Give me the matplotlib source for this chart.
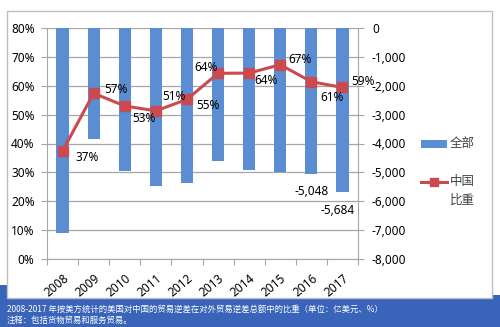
import matplotlib
matplotlib.use("Agg")
from matplotlib import pyplot as plt
from matplotlib.patches import Rectangle
from matplotlib.lines import Line2D
import numpy as np

plt.rcParams['font.family'] = ['Noto Sans', 'Noto Sans CJK SC', 'DejaVu Sans']

# data
years = ['2008', '2009', '2010', '2011', '2012', '2013', '2014', '2015', '2016', '2017']
deficit_total = [-7087, -3838, -4947, -5486, -5368, -4619, -4903, -4985, -5048, -5684]  # 亿美元
china_share = [37.4, 57.4, 53.0, 51.3, 55.3, 64.3, 64.4, 67.3, 61.4, 59.4]  # %

# label offsets (px) for the share labels, placed as in the reference
share_offsets = [(25, -6), (22, 4), (19, -13), (18, 14), (21, -6), (-12, 6), (17, -7), (20, 5), (21, -16), (21, 6)]

bar_color = '#5B8DD3'
line_color = '#CB4A50'
band_color = '#3A64BA'
grid_color = '#A6A6A6'
cjk = ['Noto Sans CJK SC', 'DejaVu Sans']

fig = plt.figure(figsize=(5.0, 3.27), dpi=100)
W, H = 500, 327

# blue band at the bottom
fig.patches.append(Rectangle((0, 0), 1, 1 - 295 / H, transform=fig.transFigure,
                             facecolor=band_color, edgecolor='none', zorder=0))
fig.patches.append(Rectangle((0, 0), 7 / W, 1 - 285 / H, transform=fig.transFigure,
                             facecolor=band_color, edgecolor='none', zorder=0))
# white chart panel with grey border
fig.patches.append(Rectangle((7 / W, 1 - 298 / H), 485 / W, 287 / H, transform=fig.transFigure,
                             facecolor='white', edgecolor='#BFBFBF', lw=1.0, zorder=1))

fig.text(7 / W, 1 - 309 / H, '2008-2017 年按美方统计的美国对中国的贸易逆差在对外贸易逆差总额中的比重（单位：亿美元、%）',
         color='white', fontsize=6.0, va='center', ha='left', family=cjk)
fig.text(7 / W, 1 - 320 / H, '注释：包括货物贸易和服务贸易。',
         color='white', fontsize=6.0, va='center', ha='left', family=cjk)

ax = fig.add_axes([47 / W, 1 - 259 / H, (358 - 47) / W, (259 - 28) / H])
ax.set_zorder(2)
ax.patch.set_alpha(0)
x = np.arange(len(years))

# bars on the deficit scale (shown on the right)
ax.bar(x, deficit_total, width=0.39, color=bar_color, zorder=2)
ax.set_ylim(-8000, 0)
ax.set_xlim(-0.5, len(years) - 0.5)
ax.grid(axis='y', color=grid_color, lw=0.9)
ax.set_axisbelow(True)
ax.set_xticks(np.arange(-0.5, len(years), 1))
ax.set_xticklabels([])
ax.set_xticks(x, minor=True)
ax.set_xticklabels(years, minor=True, rotation=40, ha='right', rotation_mode='anchor', fontsize=8.5)
ax.tick_params(axis='x', which='minor', length=0, pad=9)
ax.tick_params(axis='x', which='major', length=4, color=grid_color)

for i, v in enumerate(deficit_total[-2:]):
    k = len(years) - 2 + i
    dx = 0 if i == 0 else -0.15
    ax.annotate('{:,}'.format(v), (k + dx, v), xytext=(0, -13), textcoords='offset points',
                ha='center', va='center', fontsize=8.5)

# share line on the percent scale (shown on the left)
ax2 = ax.twinx()
ax2.yaxis.tick_left()
ax.yaxis.tick_right()
ax.set_yticks(np.arange(-8000, 1, 1000))
ax.set_yticklabels(['{:,}'.format(v) for v in np.arange(-8000, 1, 1000)])
ax.tick_params(axis='y', length=4, color=grid_color, labelsize=8.5, pad=6)
for s in ['top', 'left']:
    ax.spines[s].set_visible(False)
for s in ['right', 'bottom']:
    ax.spines[s].set_color(grid_color)

ax2.plot(x, china_share, color=line_color, lw=2.2, marker='s', markersize=7, zorder=3)
ax2.set_ylim(0, 80)
ax2.set_yticks(np.arange(0, 81, 10))
ax2.set_yticklabels(['{}%'.format(v) for v in range(0, 81, 10)])
ax2.tick_params(axis='y', length=4, color=grid_color, labelsize=8.5, pad=5)
for s in ['top', 'right', 'bottom']:
    ax2.spines[s].set_visible(False)
ax2.spines['left'].set_color(grid_color)

for i, v in enumerate(china_share):
    ox, oy = share_offsets[i]
    ax2.annotate('{:.0f}%'.format(v), (x[i], v), xytext=(ox * 0.72, oy * 0.72), textcoords='offset points',
                 ha='center', va='center', fontsize=8.5)

# legend drawn by hand
fig.patches.append(Rectangle((421 / W, 1 - 148 / H), 26 / W, 8 / H, transform=fig.transFigure,
                             facecolor=bar_color, edgecolor='none', zorder=3))
fig.text(450 / W, 1 - 144 / H, '全部', fontsize=9, va='center', ha='left', family=cjk, color='#404040')
fig.lines.append(Line2D([421 / W, 447 / W], [1 - 182 / H, 1 - 182 / H], transform=fig.transFigure,
                        color=line_color, lw=2.2, zorder=3))
fig.lines.append(Line2D([434 / W], [1 - 182 / H], transform=fig.transFigure,
                        color=line_color, marker='s', markersize=6, zorder=3))
fig.text(450 / W, 1 - 182 / H, '中国', fontsize=9, va='center', ha='left', family=cjk, color='#404040')
fig.text(450 / W, 1 - 200 / H, '比重', fontsize=9, va='center', ha='left', family=cjk, color='#404040')

fig.savefig('out.png', dpi=100)
